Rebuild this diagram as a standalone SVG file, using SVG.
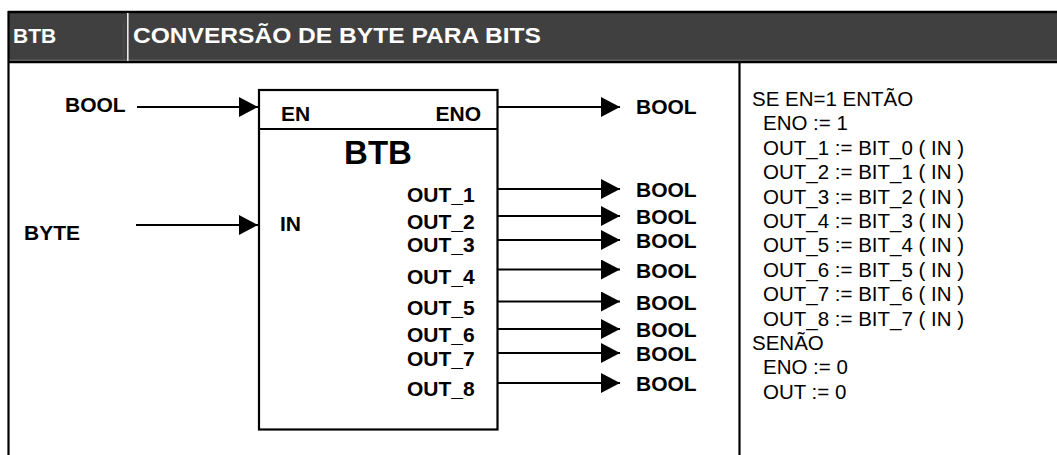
<svg xmlns="http://www.w3.org/2000/svg" width="1057" height="455" viewBox="0 0 1057 455">
<defs>
<style>
.hdr{font-family:"Liberation Sans",Arial,sans-serif;font-weight:bold;font-size:21px;fill:#ffffff}
.lbl{font-family:"Liberation Sans",Arial,sans-serif;font-weight:bold;font-size:21px;fill:#000000}
.ttl{font-family:"Liberation Sans",Arial,sans-serif;font-weight:bold;font-size:33px;fill:#000000}
.code{font-family:"Liberation Sans",Arial,sans-serif;font-size:20.5px;fill:#000000}
.wire{stroke:#000;stroke-width:2.2;fill:none}
.frame{stroke:#000;stroke-width:2.2;fill:none}
</style>
<marker id="ah" markerWidth="19" markerHeight="20" refX="19" refY="10" orient="auto" markerUnits="userSpaceOnUse">
<path d="M0,0 L19,10 L0,20 Z" fill="#000"/>
</marker>
</defs>
<rect width="1057" height="455" fill="#ffffff"/>
<g id="header">
<rect x="8" y="12" width="1049" height="50" fill="#404040"/>
<line x1="8" y1="12" x2="1057" y2="12" stroke="#000" stroke-width="2.5"/>
<line x1="8" y1="60.3" x2="1057" y2="60.3" stroke="#8a8a8a" stroke-width="1"/>
<line x1="8" y1="62" x2="1057" y2="62" stroke="#000" stroke-width="2.5"/>
<line x1="123.3" y1="23" x2="123.3" y2="60" stroke="#555" stroke-width="0.8"/>
<line x1="127.8" y1="13" x2="127.8" y2="61" stroke="#e8e8e8" stroke-width="1.6"/>
<text class="hdr" x="13" y="43">BTB</text>
<text class="hdr" x="133" y="43" textLength="408" lengthAdjust="spacingAndGlyphs" style="font-size:22px">CONVERSÃO DE BYTE PARA BITS</text>
</g>
<g id="frame">
<line x1="8.5" y1="11" x2="8.5" y2="455" stroke="#000" stroke-width="2.2"/>
<line x1="739.5" y1="61" x2="739.5" y2="455" stroke="#000" stroke-width="2.2"/>
</g>
<g id="block-btb">
<rect x="259" y="90" width="238.5" height="339.5" class="frame"/>
<line x1="259" y1="129" x2="497.5" y2="129" class="frame"/>
<text class="lbl" x="281" y="121">EN</text>
<text class="lbl" x="481" y="121" text-anchor="end">ENO</text>
<text class="ttl" x="378" y="164" text-anchor="middle">BTB</text>
<text class="lbl" x="280" y="231">IN</text>
<text class="lbl" x="407" y="202">OUT_1</text>
<text class="lbl" x="407" y="229">OUT_2</text>
<text class="lbl" x="407" y="252">OUT_3</text>
<text class="lbl" x="407" y="284">OUT_4</text>
<text class="lbl" x="407" y="315">OUT_5</text>
<text class="lbl" x="407" y="342">OUT_6</text>
<text class="lbl" x="407" y="366">OUT_7</text>
<text class="lbl" x="407" y="396">OUT_8</text>
</g>
<g id="inputs">
<text class="lbl" x="65" y="112">BOOL</text>
<text class="lbl" x="24" y="240">BYTE</text>
</g>
<g id="outputs">
<text class="lbl" x="636" y="114">BOOL</text>
<text class="lbl" x="636" y="196.5">BOOL</text>
<text class="lbl" x="636" y="224">BOOL</text>
<text class="lbl" x="636" y="248">BOOL</text>
<text class="lbl" x="636" y="278">BOOL</text>
<text class="lbl" x="636" y="309.5">BOOL</text>
<text class="lbl" x="636" y="337">BOOL</text>
<text class="lbl" x="636" y="360.5">BOOL</text>
<text class="lbl" x="636" y="390.5">BOOL</text>
</g>
<g id="connectors">
<line x1="137" y1="107" x2="258" y2="107" class="wire" marker-end="url(#ah)"/>
<line x1="136" y1="225" x2="258" y2="225" class="wire" marker-end="url(#ah)"/>
<line x1="498" y1="107" x2="620" y2="107" class="wire" marker-end="url(#ah)"/>
<line x1="498" y1="189" x2="620" y2="189" class="wire" marker-end="url(#ah)"/>
<line x1="498" y1="216" x2="620" y2="216" class="wire" marker-end="url(#ah)"/>
<line x1="498" y1="240" x2="620" y2="240" class="wire" marker-end="url(#ah)"/>
<line x1="498" y1="269.5" x2="620" y2="269.5" class="wire" marker-end="url(#ah)"/>
<line x1="498" y1="301.5" x2="620" y2="301.5" class="wire" marker-end="url(#ah)"/>
<line x1="498" y1="329" x2="620" y2="329" class="wire" marker-end="url(#ah)"/>
<line x1="498" y1="353" x2="620" y2="353" class="wire" marker-end="url(#ah)"/>
<line x1="498" y1="383" x2="620" y2="383" class="wire" marker-end="url(#ah)"/>
</g>
<g id="code">
<text class="code" x="752" y="106">SE EN=1 ENTÃO</text>
<text class="code" x="763" y="130.4">ENO := 1</text>
<text class="code" x="763" y="154.8">OUT_1 := BIT_0 ( IN )</text>
<text class="code" x="763" y="179.2">OUT_2 := BIT_1 ( IN )</text>
<text class="code" x="763" y="203.6">OUT_3 := BIT_2 ( IN )</text>
<text class="code" x="763" y="228">OUT_4 := BIT_3 ( IN )</text>
<text class="code" x="763" y="252.4">OUT_5 := BIT_4 ( IN )</text>
<text class="code" x="763" y="276.8">OUT_6 := BIT_5 ( IN )</text>
<text class="code" x="763" y="301.2">OUT_7 := BIT_6 ( IN )</text>
<text class="code" x="763" y="325.6">OUT_8 := BIT_7 ( IN )</text>
<text class="code" x="752" y="350">SENÃO</text>
<text class="code" x="763" y="374.4">ENO := 0</text>
<text class="code" x="763" y="398.8">OUT := 0</text>
</g>
</svg>
